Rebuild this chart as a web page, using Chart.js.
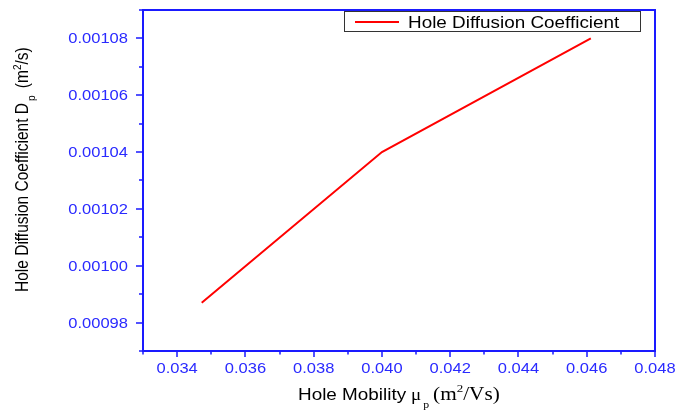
<!DOCTYPE html>
<html>
<head>
<meta charset="utf-8">
<script src="https://cdn.jsdelivr.net/npm/chart.js@4"></script>
<style>
  html, body { margin: 0; padding: 0; background: #fff; }
  #wrap { width: 694px; height: 412px; }
</style>
</head>
<body>
<div id="wrap"><canvas id="chart" width="694" height="412"></canvas></div>
<script>
// data
const mobility = [0.03472, 0.0400, 0.04612];
const diffusion = [0.000987, 0.00104, 0.00108];
const seriesName = 'Hole Diffusion Coefficient';

const xMajorTicks = [0.034, 0.036, 0.038, 0.040, 0.042, 0.044, 0.046, 0.048];
const xTickLabels = ['0.034', '0.036', '0.038', '0.040', '0.042', '0.044', '0.046', '0.048'];
const xMinorTicks = [0.033, 0.035, 0.037, 0.039, 0.041, 0.043, 0.045, 0.047];
const yMajorTicks = [0.00098, 0.00100, 0.00102, 0.00104, 0.00106, 0.00108];
const yTickLabels = ['0.00098', '0.00100', '0.00102', '0.00104', '0.00106', '0.00108'];
const yMinorTicks = [0.00097, 0.00099, 0.00101, 0.00103, 0.00105, 0.00107, 0.00109];

const AXIS = '#1a1aff';
const LABEL = '#2a2aff';
const SANS = '"Liberation Sans", Arial, sans-serif';
const SERIF = '"Liberation Serif", "Times New Roman", serif';
const SX = 1.18; // the original is a little wider than tall

// draws stretched text pieces left to right, returns the width used
function runs(ctx, parts, x, y) {
  let cx = x;
  parts.forEach(p => {
    ctx.font = p.font;
    const w = ctx.measureText(p.t).width * SX;
    ctx.save();
    ctx.translate(cx, y + (p.dy || 0));
    ctx.scale(SX, 1);
    ctx.fillText(p.t, 0, 0);
    ctx.restore();
    cx += w + (p.gap || 0);
  });
  return cx - x;
}

const frame = {
  id: 'frame',
  afterDraw(chart) {
    const ctx = chart.ctx;
    const a = chart.chartArea;
    const xs = chart.scales.x, ys = chart.scales.y;
    ctx.save();

    // box
    ctx.strokeStyle = AXIS;
    ctx.lineWidth = 2;
    ctx.strokeRect(a.left, a.top, a.right - a.left, a.bottom - a.top);

    // ticks
    ctx.lineWidth = 1.5;
    ctx.beginPath();
    xMajorTicks.forEach(v => { const px = Math.round(xs.getPixelForValue(v)); ctx.moveTo(px, a.bottom); ctx.lineTo(px, a.bottom + 6); });
    xMinorTicks.forEach(v => { const px = Math.round(xs.getPixelForValue(v)); ctx.moveTo(px, a.bottom); ctx.lineTo(px, a.bottom + 3.5); });
    yMajorTicks.forEach(v => { const py = Math.round(ys.getPixelForValue(v)); ctx.moveTo(a.left, py); ctx.lineTo(a.left - 7, py); });
    yMinorTicks.forEach(v => { const py = Math.round(ys.getPixelForValue(v)); ctx.moveTo(a.left, py); ctx.lineTo(a.left - 4, py); });
    ctx.stroke();

    // tick labels
    ctx.fillStyle = LABEL;
    ctx.textBaseline = 'alphabetic';
    ctx.font = '14px ' + SANS;
    xMajorTicks.forEach((v, i) => {
      const w = ctx.measureText(xTickLabels[i]).width * SX;
      const px = xs.getPixelForValue(v);
      ctx.save(); ctx.translate(px - w / 2, 373); ctx.scale(SX, 1);
      ctx.fillText(xTickLabels[i], 0, 0); ctx.restore();
    });
    yMajorTicks.forEach((v, i) => {
      const w = ctx.measureText(yTickLabels[i]).width * SX;
      const py = ys.getPixelForValue(v);
      ctx.save(); ctx.translate(128 - w, py + 5); ctx.scale(SX, 1);
      ctx.fillText(yTickLabels[i], 0, 0); ctx.restore();
    });

    // x title
    ctx.fillStyle = '#000';
    const xt = [
      { t: 'Hole Mobility', font: '16px ' + SANS, gap: 5 },
      { t: 'μ', font: '16px ' + SERIF, gap: 2 },
      { t: 'p', font: '10px ' + SERIF, dy: 8, gap: 4 },
      { t: '(m', font: '18px ' + SERIF },
      { t: '2', font: '11px ' + SERIF, dy: -8 },
      { t: '/Vs)', font: '18px ' + SERIF }
    ];
    runs(ctx, xt, 298, 400);

    // y title (rotated)
    const yt = [
      { t: 'Hole Diffusion Coefficient D', font: '15.5px ' + SANS, gap: 2 },
      { t: 'p', font: '10px ' + SANS, dy: 6, gap: 3 },
      { t: ' (m', font: '15.5px ' + SANS },
      { t: '2', font: '10px ' + SANS, dy: -6 },
      { t: '/s)', font: '15.5px ' + SANS }
    ];
    ctx.save();
    ctx.translate(28, 292);
    ctx.rotate(-Math.PI / 2);
    // in this frame, screen x runs along local y, so stretch along local y
    let cx = 0;
    yt.forEach(p => {
      ctx.font = p.font;
      const w = ctx.measureText(p.t).width;
      ctx.save();
      ctx.translate(cx, (p.dy || 0) * SX);
      ctx.scale(1, SX);
      ctx.fillText(p.t, 0, 0);
      ctx.restore();
      cx += w + (p.gap || 0);
    });
    ctx.restore();

    // legend
    const ds = chart.data.datasets[0];
    ctx.fillStyle = '#fff';
    ctx.fillRect(344, 12, 296, 20);
    ctx.strokeStyle = '#333';
    ctx.lineWidth = 1;
    ctx.strokeRect(344.5, 11.5, 296, 20);
    ctx.strokeStyle = ds.borderColor;
    ctx.lineWidth = 2;
    ctx.beginPath(); ctx.moveTo(355, 22); ctx.lineTo(399, 22); ctx.stroke();
    ctx.fillStyle = '#000';
    runs(ctx, [{ t: ds.label, font: '16px ' + SANS }], 408, 28);

    ctx.restore();
  }
};

new Chart(document.getElementById('chart'), {
  type: 'line',
  data: {
    datasets: [{
      label: seriesName,
      data: mobility.map((x, i) => ({ x: x, y: diffusion[i] })),
      borderColor: '#ff0000',
      borderWidth: 2,
      pointRadius: 0,
      tension: 0,
      fill: false
    }]
  },
  options: {
    responsive: false,
    animation: false,
    events: [],
    layout: { padding: { top: 10, right: 39, left: 0, bottom: 0 } },
    plugins: { legend: { display: false }, tooltip: { enabled: false } },
    scales: {
      x: {
        type: 'linear', min: 0.033, max: 0.048,
        grid: { display: false },
        border: { display: false },
        ticks: { display: false },
        afterFit: s => { s.height = 61; }
      },
      y: {
        type: 'linear', min: 0.00097, max: 0.00109,
        grid: { display: false },
        border: { display: false },
        ticks: { display: false },
        afterFit: s => { s.width = 143; }
      }
    }
  },
  plugins: [frame]
});
</script>
</body>
</html>
